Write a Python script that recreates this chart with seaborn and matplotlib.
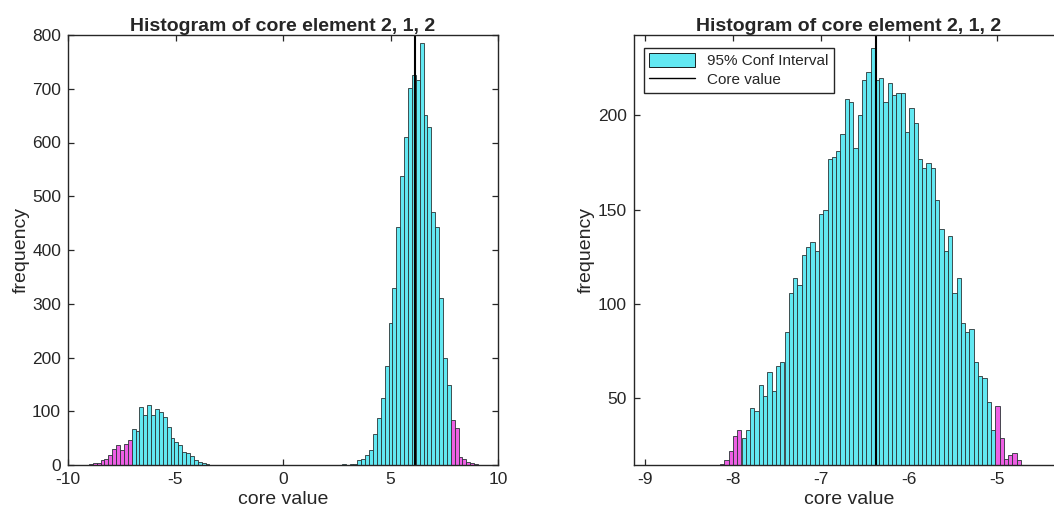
import numpy as np
import pandas as pd
import matplotlib
matplotlib.use("Agg")
import matplotlib.pyplot as plt
from matplotlib.patches import Patch
from matplotlib.lines import Line2D
import seaborn as sns

# ---- data ----
title = "Histogram of core element 2, 1, 2"

# left panel: 100 bins between these limits
left_bin_range = (-9.03, 9.07)
left_counts = (
    [2, 3, 4, 9, 12, 19, 30, 37, 27, 40, 47]
    + [67, 63, 107, 93, 112, 93, 105, 99, 90, 71, 51, 43, 37, 25, 23, 17, 9, 5, 3, 1]
    + [0] * 34 + [1, 0, 1, 2]
    + [9, 12, 19, 27, 58, 87, 124, 185, 265, 330, 443, 538, 611, 701, 726, 716,
       786, 651, 629, 471, 443, 310, 200, 149]
    + [84, 68, 15, 11, 6, 3, 1]
)
left_ci = (-7.04, 7.80)
left_core = 6.14

# right panel: 100 bins between these limits
right_bin_range = (-9.125, -4.24)
right_counts = (
    [0] * 20
    + [15, 17, 22, 30, 33]
    + [29, 33, 45, 43, 57, 51, 64, 54, 67, 69,
       85, 106, 114, 110, 126, 130, 133, 128, 148, 150,
       177, 178, 181, 190, 209, 207, 183, 200, 219, 223,
       236, 219, 220, 207, 217, 211, 212, 212, 191, 204,
       196, 177, 172, 175, 172, 155, 140, 128, 136, 106,
       114, 90, 85, 87, 69, 62, 61, 48, 33]
    + [46, 29, 18, 20, 21, 17]
    + [0] * 10
)
right_ci = (-7.90, -5.025)
right_core = -6.375

cyan = "#62E8F2"
pink = "#EE5FE4"
edge = "#2a3436"

sns.set_style("white")
plt.rcParams["font.family"] = ["Liberation Sans", "DejaVu Sans"]
plt.rcParams["axes.unicode_minus"] = False
plt.rcParams["axes.edgecolor"] = "#262626"
plt.rcParams["axes.linewidth"] = 1.0


def draw_panel(ax, bin_range, counts, ci, core):
    edges = np.linspace(bin_range[0], bin_range[1], len(counts) + 1)
    df = pd.DataFrame({
        "center": (edges[:-1] + edges[1:]) / 2,
        "count": np.asarray(counts, dtype=float),
    })
    df["tail"] = (df["center"] < ci[0]) | (df["center"] > ci[1])

    for is_tail, color in [(False, cyan), (True, pink)]:
        sns.histplot(data=df[df["tail"] == is_tail], x="center", weights="count",
                     bins=list(edges), color=color, alpha=1, edgecolor=edge,
                     linewidth=0.6, ax=ax)
    ax.axvline(core, color="black", lw=1.5)

    ax.set_title(title, fontsize=14, fontweight="bold", pad=3)
    ax.set_xlabel("core value", fontsize=14, labelpad=3)
    ax.set_ylabel("frequency", fontsize=14, labelpad=2)
    ax.tick_params(which="major", direction="in", top=True, right=True,
                   bottom=True, left=True, length=4, width=0.9,
                   color="#262626", labelcolor="#262626", labelsize=12.5, pad=5)
    for s in ax.spines.values():
        s.set_visible(True)


fig = plt.figure(figsize=(10.54, 5.15), dpi=100)
ax1 = fig.add_axes([68 / 1054, 50 / 515, 430 / 1054, 430 / 515])
ax2 = fig.add_axes([634 / 1054, 50 / 515, 430 / 1054, 430 / 515])

draw_panel(ax1, left_bin_range, left_counts, left_ci, left_core)
ax1.set_xlim(-10, 10)
ax1.set_ylim(0, 800)
ax1.set_xticks([-10, -5, 0, 5, 10])
ax1.set_yticks(range(0, 801, 100))

draw_panel(ax2, right_bin_range, right_counts, right_ci, right_core)
ax2.set_xlim(right_bin_range)
ax2.set_ylim(14.6, 242.7)
ax2.set_xticks([-9, -8, -7, -6, -5])
ax2.set_yticks([50, 100, 150, 200])

handles = [Patch(facecolor=cyan, edgecolor="black", linewidth=0.6),
           Line2D([], [], color="black", lw=1)]
leg = ax2.legend(handles, ["95% Conf Interval", "Core value"], loc="upper left",
                 bbox_to_anchor=(10 / 430, 1 - 13 / 430), borderaxespad=0,
                 fontsize=11, frameon=True, fancybox=False, framealpha=1,
                 edgecolor="#262626", handlelength=3.0, handleheight=1.0,
                 borderpad=0.35, labelspacing=0.25, handletextpad=0.8)
leg.get_frame().set_linewidth(1.0)

fig.savefig("out.png", dpi=100)
